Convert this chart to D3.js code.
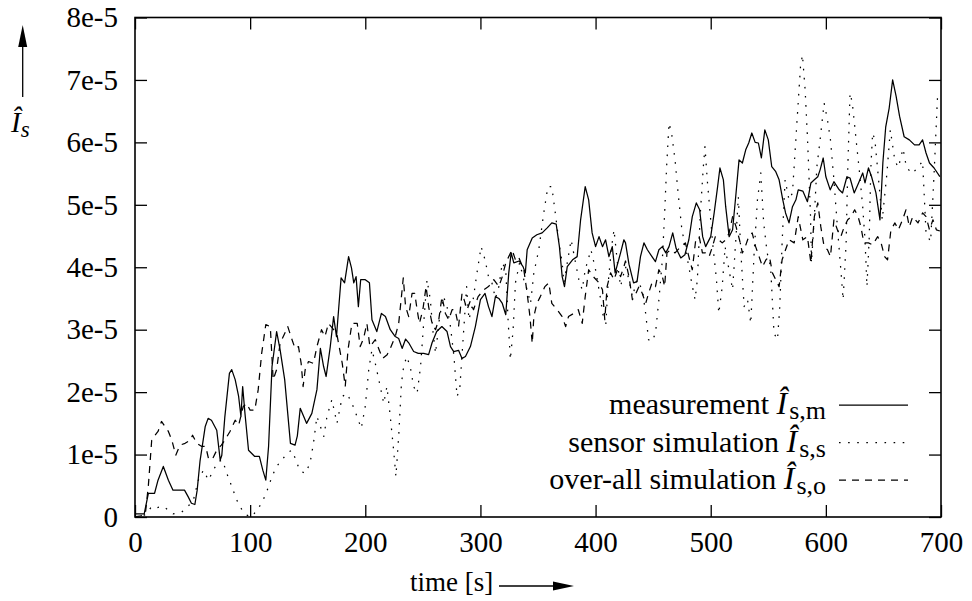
<!DOCTYPE html>
<html>
<head>
<meta charset="utf-8">
<script src="https://cdn.jsdelivr.net/npm/d3@7"></script>
<style>
  body { margin: 0; background: #fff; }
  svg text { font-family: "Liberation Serif", "Times New Roman", serif; fill: #000; }
</style>
</head>
<body>
<svg id="chart" width="972" height="601"></svg>
<script>
// values are in units of 1e-5
const measurement = [[0,0.05],[5,0.05],[8,0.05],[11.6,0.38],[15,0.38],[17,0.38],[20,0.59],[24.6,0.81],[29,0.59],[33,0.43],[37,0.43],[43,0.43],[46,0.33],[49,0.22],[52,0.2],[54,0.43],[56.5,0.9],[61,1.45],[63.5,1.58],[66.4,1.55],[71,1.39],[74,0.91],[75.4,0.99],[78,1.6],[82,2.3],[84,2.36],[87,2.2],[90,1.93],[92,1.61],[93.5,2.09],[95.5,1.66],[98.6,1.07],[104,0.97],[108,0.97],[111,0.75],[113.6,0.59],[116,1.13],[119,2.41],[123,2.97],[126,2.68],[130,2.2],[135,1.18],[139,1.15],[141,1.3],[143.5,1.74],[149,1.5],[153.6,1.66],[158,2.04],[161,2.7],[163.8,2.41],[166,2.25],[169.6,2.73],[172.5,3.21],[175,2.89],[176.8,3.32],[179,3.83],[182,3.75],[185.5,4.17],[188,3.99],[190,3.75],[192,3.85],[194,3.37],[196,3.8],[200,3.8],[203.6,3.75],[205.8,3.16],[210,2.97],[214,3.26],[217.5,3.21],[221.7,3.0],[226,2.89],[229,2.86],[232,2.7],[235,2.85],[237.7,2.79],[242,2.65],[246,2.62],[250.7,2.62],[255,2.6],[258,2.79],[262,2.97],[266.5,3.05],[271,2.97],[274,2.73],[276.8,2.65],[281,2.67],[284,2.54],[287,2.57],[291.3,2.73],[295.6,3.05],[300,3.48],[304,3.58],[307,3.37],[310,3.21],[313,3.53],[316,3.5],[319,3.42],[322,3.24],[324.6,3.91],[326.7,4.23],[329,4.07],[333.6,4.1],[337,4.01],[339,3.91],[340.6,4.28],[345,4.47],[349,4.52],[353.6,4.55],[358,4.63],[362,4.71],[365.8,4.69],[368.6,4.33],[371,3.85],[373,3.69],[375.4,4.01],[380,4.12],[384,4.17],[387,4.76],[391,5.29],[394,5.08],[397,4.55],[400,4.33],[403,4.49],[406,4.33],[408.7,4.44],[411.6,4.17],[414.5,4.33],[417,3.91],[421.7,4.23],[424.6,4.44],[426,4.39],[429,4.05],[433,3.75],[436,3.77],[439,4.17],[442,4.39],[445,4.28],[449,4.17],[452,4.09],[455,4.28],[458,4.33],[461,4.23],[463.8,4.33],[467,4.55],[470,4.3],[474,4.15],[477.6,4.2],[481,4.44],[484,4.81],[487.5,5.03],[490.4,4.92],[493,4.49],[495.6,4.33],[500,4.49],[503,4.87],[506,5.29],[508,5.59],[511,5.4],[513,4.97],[516,4.49],[519,4.6],[522,5.19],[524.6,5.72],[527.5,5.67],[530.4,5.88],[533,5.99],[535.7,6.15],[538.6,6.0],[541.4,5.99],[544,5.75],[547,6.2],[550,6.04],[553,5.61],[556.5,5.53],[559.4,5.4],[562.6,5.08],[565,4.87],[568,4.71],[571,4.97],[574,5.08],[576,5.24],[580,5.22],[584,5.05],[587,5.35],[590,5.4],[593,5.45],[595,5.56],[597.7,5.75],[600,5.45],[603.8,5.24],[607,5.37],[611.6,5.24],[614.5,5.19],[618.3,5.45],[621,5.43],[624.6,5.19],[628.4,5.35],[632,5.51],[634,5.35],[637,5.59],[639.7,5.45],[643.5,5.19],[647,4.76],[649.5,5.67],[652,6.25],[655,6.55],[658,7.0],[661,6.74],[664,6.42],[668,6.09],[672.5,6.04],[677,5.96],[681,5.96],[684,6.04],[687,5.83],[690,5.67],[694,5.59],[699,5.45]];

const sensorSim = [[0,0.0],[5,0.0],[10,0.05],[14.5,0.17],[19,0.15],[24.6,0.17],[29,0.11],[33,0.05],[40.6,0.08],[46,0.17],[50.7,0.27],[55,0.59],[59.4,0.75],[63.8,0.59],[68,0.75],[72.5,0.89],[76,0.91],[79.7,0.7],[84,0.49],[88.4,0.27],[93,0.11],[97,0.03],[101.4,0.0],[105.8,0.11],[110,0.22],[114.5,0.41],[119,0.65],[123,0.81],[127.5,0.91],[132,1.02],[136,1.07],[139,0.95],[142,0.8],[144,0.73],[148,0.7],[152,0.86],[155,1.18],[158,1.61],[161,1.45],[164,1.29],[166.7,1.61],[171,1.88],[175.4,1.5],[180,1.93],[184,1.98],[188.4,1.82],[192.8,1.61],[196.5,1.42],[200,1.77],[203,2.36],[205.8,2.68],[208.7,2.46],[213,2.09],[216,1.82],[218.8,2.09],[221.7,1.61],[224.6,1.07],[226.6,0.65],[229,1.29],[231.4,2.14],[233.3,2.41],[236,2.57],[239,2.41],[242,2.09],[245,1.98],[248,2.41],[250.7,3.1],[253.6,3.8],[256.5,3.48],[258.6,3.0],[261,2.62],[264.6,3.21],[268,3.53],[271,3.37],[274,3.05],[277,2.57],[279.7,1.93],[282,2.04],[285.5,3.0],[288,3.69],[290,3.16],[292.8,3.37],[297,3.91],[300.6,4.33],[304,4.12],[307,3.85],[310,3.75],[313,3.5],[316,3.69],[319,4.07],[322,3.96],[324,3.16],[326,2.52],[328.4,3.0],[330.4,3.75],[334,4.07],[337.7,3.8],[340.6,3.64],[343.5,3.42],[346.4,3.91],[350.7,4.28],[355,4.87],[358.6,5.29],[362,5.29],[365,4.87],[368.7,4.33],[371,4.07],[372.5,3.75],[375.4,4.07],[378.8,4.44],[382.6,4.07],[385.5,3.8],[388.4,3.64],[391,3.96],[396,4.28],[400,3.96],[404,3.53],[406.7,3.21],[409,3.1],[410.7,3.69],[413.6,4.28],[416,4.6],[419,4.07],[421.7,3.69],[424.6,3.91],[426,4.01],[429,3.8],[432,3.53],[436,3.8],[440.6,3.64],[443.5,3.26],[446,2.84],[449,2.81],[452,2.94],[455,3.48],[458,4.12],[460,4.87],[461.7,5.61],[463.8,6.31],[466,6.15],[469,5.72],[472,5.13],[474.7,4.65],[477.6,4.33],[481,4.01],[483.5,3.75],[486.4,3.48],[488.4,3.8],[491,4.87],[493.6,5.61],[495,5.93],[497,5.4],[499,4.97],[502,4.33],[505,3.8],[507,3.26],[510,3.69],[512.5,4.33],[515.4,4.01],[519,3.64],[522,4.5],[524,5.13],[526,4.3],[529,3.37],[532,3.48],[534.8,3.1],[537.7,4.23],[540.6,5.08],[543.5,5.51],[546,4.71],[549,4.23],[552,4.01],[555,2.94],[558,2.84],[560,3.37],[562,4.39],[564.6,5.4],[568,5.08],[571,5.19],[573,5.77],[575.4,6.47],[578,7.22],[579.7,7.4],[582,6.84],[584,6.09],[586.7,4.81],[587.5,4.07],[590,4.81],[592.2,5.61],[595,6.04],[598.5,6.63],[601.4,6.36],[604,6.04],[607,5.4],[610,4.65],[613,3.96],[615,3.48],[617.6,4.39],[619,5.56],[621,6.79],[623,6.63],[626,6.09],[629,5.56],[632,4.97],[634,4.44],[635.7,3.69],[637.7,4.49],[639,5.56],[640.6,6.15],[642.6,6.04],[645,5.56],[649,4.76],[653,5.5],[656,6.2],[660,5.7],[663,5.6],[667,5.9],[670,5.6],[675,5.5],[680,5.6],[684,5.7],[687,4.55],[691,4.41],[694,5.5],[697,6.74],[700,6.73]];

const overallSim = [[0,0.0],[5,0.02],[9,0.05],[11.6,0.5],[14.5,1.23],[17.4,1.31],[20,1.37],[23,1.53],[26,1.45],[29,1.37],[32,1.23],[35.4,0.99],[39,1.15],[43.5,1.18],[48,1.23],[50,1.31],[53.6,1.18],[58,1.13],[61.4,1.13],[63.8,0.94],[67,0.92],[71,1.07],[75,1.15],[78,1.23],[82.5,1.37],[87,1.55],[90,1.47],[94,1.77],[97,1.82],[100,1.71],[104,1.71],[107,2.04],[110,2.62],[113.6,3.08],[117.5,3.05],[120,2.2],[123,2.36],[126,2.78],[130,2.94],[132.7,3.05],[136,2.86],[139,2.7],[142,2.73],[144.3,2.46],[146,2.09],[147.8,2.36],[150.7,2.49],[155,2.46],[158,2.73],[162,3.0],[165,2.89],[168,3.1],[172.5,3.0],[175.4,2.92],[180,2.46],[182.6,2.09],[185,2.68],[188.4,3.1],[193,3.1],[195.6,2.73],[198.5,2.86],[201.4,3.1],[204,2.73],[208.7,2.84],[212,2.68],[215,2.54],[219,2.6],[221.7,2.7],[226,2.89],[229,3.1],[231.4,3.53],[233,3.83],[235,3.37],[237.7,3.21],[240.6,3.58],[243,3.58],[245,3.32],[247,3.1],[250,3.32],[252.8,3.69],[255,3.37],[258,3.1],[261,3.0],[263.8,3.16],[266.6,3.53],[269.6,3.26],[272.5,3.16],[275.4,3.32],[278,3.32],[281,3.05],[284,3.58],[285.5,3.5],[288.4,3.32],[291,3.45],[294,3.32],[298,3.53],[303,3.64],[307,3.69],[311.6,3.8],[316,3.69],[319,3.85],[322,4.07],[324.6,4.17],[327.5,4.28],[330.4,4.12],[333,4.17],[337.7,3.96],[340.6,3.58],[343,3.21],[345,2.78],[346.4,3.21],[349,3.42],[352,3.53],[356,3.69],[359.4,3.75],[362,3.42],[366.7,3.32],[371,3.21],[374,3.05],[376.5,3.21],[381,3.26],[385,3.32],[388.4,3.1],[391,3.53],[394,3.96],[398,3.85],[403,3.75],[406,3.64],[408,3.16],[410,3.69],[413,3.91],[416,3.8],[419,3.96],[421.7,3.85],[424.6,4.01],[426,4.1],[429,3.85],[432,3.48],[435,3.58],[437.7,3.69],[440.6,3.58],[443.5,3.42],[446,3.58],[449,3.75],[452,3.69],[455,3.96],[458,3.85],[460,3.69],[462,4.23],[465,4.28],[469,4.23],[474,4.33],[478,4.39],[481,4.17],[484,3.96],[487,4.44],[490,4.49],[492.8,4.23],[495.6,4.23],[498.6,4.17],[501.5,4.33],[504,4.49],[507,4.44],[510,4.39],[513,4.44],[516,4.55],[519,4.81],[522,4.65],[525,4.44],[527.5,4.23],[530,4.33],[533,4.49],[536,4.55],[539,4.33],[542,4.17],[545,4.01],[548,4.12],[551,4.17],[553.6,3.91],[556.5,3.8],[559.4,3.69],[562,4.12],[565,4.28],[568,4.44],[572.5,4.39],[576,4.81],[580,4.44],[584,4.49],[587,4.07],[590,4.81],[593,5.03],[595.6,4.65],[598.5,4.33],[601.4,4.28],[604,4.17],[607,4.76],[610,4.6],[613,4.49],[616,4.65],[619,4.76],[622,4.81],[625,4.92],[628,4.81],[630.4,4.65],[633,4.39],[637,4.39],[640.6,4.36],[645,4.49],[648,4.39],[651,4.17],[653.6,4.12],[656.5,4.6],[660,4.71],[663,4.6],[666.6,4.76],[669.6,4.92],[672.5,4.65],[675.4,4.81],[680,4.71],[684,4.87],[687,4.81],[690,4.6],[693,4.76],[696,4.6],[699,4.58]];

const xTicks = [0, 100, 200, 300, 400, 500, 600, 700];
const yTicks = [0, 1, 2, 3, 4, 5, 6, 7, 8];
const yTickLabels = ["0", "1e-5", "2e-5", "3e-5", "4e-5", "5e-5", "6e-5", "7e-5", "8e-5"];

const seriesNames = ["measurement ", "sensor simulation ", "over-all simulation "];
const seriesSubs = ["s,m", "s,s", "s,o"];

const svg = d3.select("#chart"),
    margin = {top: 17.5, right: 31, bottom: 84, left: 135},
    width = +svg.attr("width") - margin.left - margin.right,
    height = +svg.attr("height") - margin.top - margin.bottom;

const x = d3.scaleLinear().domain([0, 700]).range([0, width]),
    y = d3.scaleLinear().domain([0, 8]).range([height, 0]);

const g = svg.append("g").attr("transform", "translate(" + margin.left + "," + margin.top + ")");

const fontSize = 29;

// axes, ticks pointing inward, mirrored on top and right
g.append("g")
    .attr("transform", "translate(0," + height + ")")
    .call(d3.axisBottom(x).tickValues(xTicks).tickFormat(d3.format("d")).tickSize(-12).tickPadding(14.5))
    .call(a => a.select(".domain").remove());

g.append("g")
    .call(d3.axisLeft(y).tickValues(yTicks).tickFormat((d, i) => yTickLabels[i]).tickSize(-12).tickPadding(17))
    .call(a => a.select(".domain").remove());

g.append("g")
    .attr("transform", "translate(" + width + ",0)")
    .call(d3.axisRight(y).tickValues(yTicks).tickFormat("").tickSize(-12))
    .call(a => a.select(".domain").remove());

g.append("g")
    .call(d3.axisTop(x).tickValues(xTicks).tickFormat("").tickSize(-12))
    .call(a => a.select(".domain").remove());

g.selectAll(".tick line").attr("stroke", "#000").attr("stroke-width", 1.3);
g.selectAll(".tick text")
    .style("font-family", '"Liberation Serif", "Times New Roman", serif')
    .style("font-size", fontSize + "px")
    .attr("fill", "#000");

// data lines
const line = d3.line().x(d => x(d[0])).y(d => y(d[1]));
const styles = [
    {data: measurement, dash: null},
    {data: sensorSim, dash: "1.6,7.5"},
    {data: overallSim, dash: "7,6"}
];

g.append("defs").append("clipPath").attr("id", "clip")
    .append("rect").attr("width", width).attr("height", height);

styles.forEach(s => {
    g.append("path")
        .datum(s.data)
        .attr("clip-path", "url(#clip)")
        .attr("fill", "none")
        .attr("stroke", "#000")
        .attr("stroke-width", 1.25)
        .attr("stroke-linejoin", "round")
        .attr("stroke-dasharray", s.dash)
        .attr("d", line);
});

// frame
g.append("rect")
    .attr("width", width).attr("height", height)
    .attr("fill", "none").attr("stroke", "#000").attr("stroke-width", 1.6);

// legend
const legend = svg.append("g");
seriesNames.forEach((name, i) => {
    const ly = 405 + i * 37.5;
    const t = legend.append("text")
        .attr("x", 826).attr("y", ly + 9)
        .attr("text-anchor", "end")
        .style("font-size", "30px");
    t.append("tspan").text(name);
    t.append("tspan").style("font-style", "italic").style("font-size", "32px").text("\u00CE");
    t.append("tspan").attr("dx", 2).attr("dy", 5).style("font-size", "26px").text(seriesSubs[i]);
    legend.append("line")
        .attr("x1", 839).attr("x2", 908).attr("y1", ly).attr("y2", ly)
        .attr("stroke", "#000").attr("stroke-width", 1.25)
        .attr("stroke-dasharray", styles[i].dash);
});

// axis titles with arrows
svg.append("text")
    .attr("x", 410).attr("y", 591)
    .style("font-size", "27px")
    .text("time [s]");
svg.append("line").attr("x1", 499).attr("x2", 556).attr("y1", 586).attr("y2", 586)
    .attr("stroke", "#000").attr("stroke-width", 1.3);
svg.append("path").attr("d", "M574,586 L553,581.5 L553,590.5 Z").attr("fill", "#000");

const yl = svg.append("text")
    .attr("x", 11).attr("y", 132)
    .style("font-size", fontSize + "px")
    .style("font-style", "italic");
yl.append("tspan").text("\u00CE");
yl.append("tspan").attr("dy", 5).style("font-size", "23px").text("s");
svg.append("line").attr("x1", 22.7).attr("x2", 22.7).attr("y1", 97).attr("y2", 44)
    .attr("stroke", "#000").attr("stroke-width", 1.3);
svg.append("path").attr("d", "M22.7,25 L18.2,47 L27.2,47 Z").attr("fill", "#000");
</script>
</body>
</html>
